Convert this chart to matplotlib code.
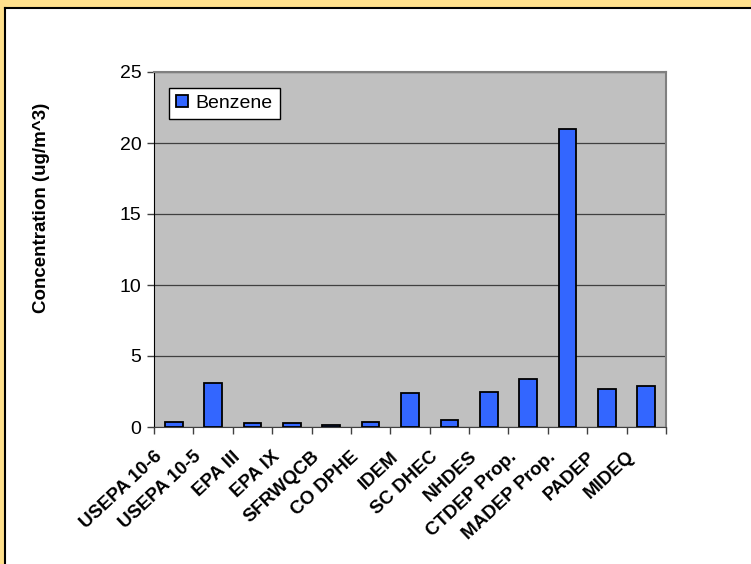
import matplotlib
matplotlib.use("Agg")
import matplotlib.pyplot as plt
import matplotlib.transforms as mtransforms
from matplotlib.patches import Rectangle
import numpy as np

# values
agencies = ["USEPA 10-6", "USEPA 10-5", "EPA III", "EPA IX", "SFRWQCB", "CO DPHE",
            "IDEM", "SC DHEC", "NHDES", "CTDEP Prop.", "MADEP Prop.", "PADEP", "MIDEQ"]
benzene = [0.33, 3.1, 0.25, 0.25, 0.12, 0.33, 2.37, 0.48, 2.45, 3.35, 21.0, 2.7, 2.9]
yticks = [0, 5, 10, 15, 20, 25]

plt.rcParams["font.family"] = ["Liberation Sans", "DejaVu Sans"]

fig = plt.figure(figsize=(7.51, 5.64), dpi=100)
fig.patch.set_facecolor("white")

# yellow frame on top and left, with a thin black line inside
W, H = 751, 564
fig.patches.append(Rectangle((0, 1 - 7 / H), 1, 7 / H, transform=fig.transFigure,
                             facecolor="#FFE08C", edgecolor="none", zorder=0))
fig.patches.append(Rectangle((0, 0), 4 / W, 1, transform=fig.transFigure,
                             facecolor="#FFE08C", edgecolor="none", zorder=0))
fig.add_artist(plt.Line2D([4.5 / W, 1], [1 - 8 / H, 1 - 8 / H], transform=fig.transFigure,
                          color="black", lw=1.5))
fig.add_artist(plt.Line2D([4.5 / W, 4.5 / W], [0, 1 - 8 / H], transform=fig.transFigure,
                          color="black", lw=1.5))

ax = fig.add_axes([154 / W, 1 - 427 / H, 512 / W, 355 / H])
ax.set_facecolor("#C0C0C0")

x = np.arange(len(agencies))
ax.bar(x, benzene, width=0.45, color="#3366FF", edgecolor="black", linewidth=1.3,
       label="Benzene", zorder=3)

ax.set_xlim(-0.5, len(agencies) - 0.5)
ax.set_ylim(0, 25)
ax.set_yticks(yticks)
ax.set_yticklabels([str(t) for t in yticks], fontsize=14)
ax.yaxis.grid(True, color="#404040", lw=0.9, zorder=1)
ax.tick_params(axis="y", direction="out", length=5, width=1, pad=4, colors="#404040",
               labelcolor="black")

# ticks between categories, labels at centres
ax.set_xticks(np.arange(len(agencies) + 1) - 0.5)
ax.set_xticklabels([])
ax.set_xticks(x, minor=True)
ax.set_xticklabels(agencies, minor=True, rotation=43, ha="right", va="top",
                   rotation_mode="anchor", fontsize=13.5, fontweight="bold")
ax.tick_params(axis="x", which="major", direction="out", length=5, width=1, colors="#404040")
ax.tick_params(axis="x", which="minor", length=0, pad=8)
shift = mtransforms.ScaledTranslation(-20 / 100, -10 / 100, fig.dpi_scale_trans)
for lab in ax.get_xticklabels(minor=True):
    lab.set_transform(lab.get_transform() + shift)

for side in ["top", "right"]:
    ax.spines[side].set_color("#808080")
    ax.spines[side].set_linewidth(1.5)
ax.spines["left"].set_color("black")
ax.spines["bottom"].set_color("#404040")

fig.text(42 / W, 1 - 208 / H, "Concentration (ug/m^3)", rotation=90, ha="center",
         va="center", fontsize=13.5, fontweight="bold")

leg = ax.legend(loc="upper left", bbox_to_anchor=(0.03, 0.955), fontsize=14,
                frameon=True, fancybox=False, handlelength=0.6, handleheight=0.6,
                handletextpad=0.4, borderpad=0.35, borderaxespad=0)
leg.get_frame().set_edgecolor("black")
leg.get_frame().set_linewidth(1)
leg.get_frame().set_facecolor("white")
leg.get_frame().set_alpha(1)

fig.savefig("out.png", dpi=100)
